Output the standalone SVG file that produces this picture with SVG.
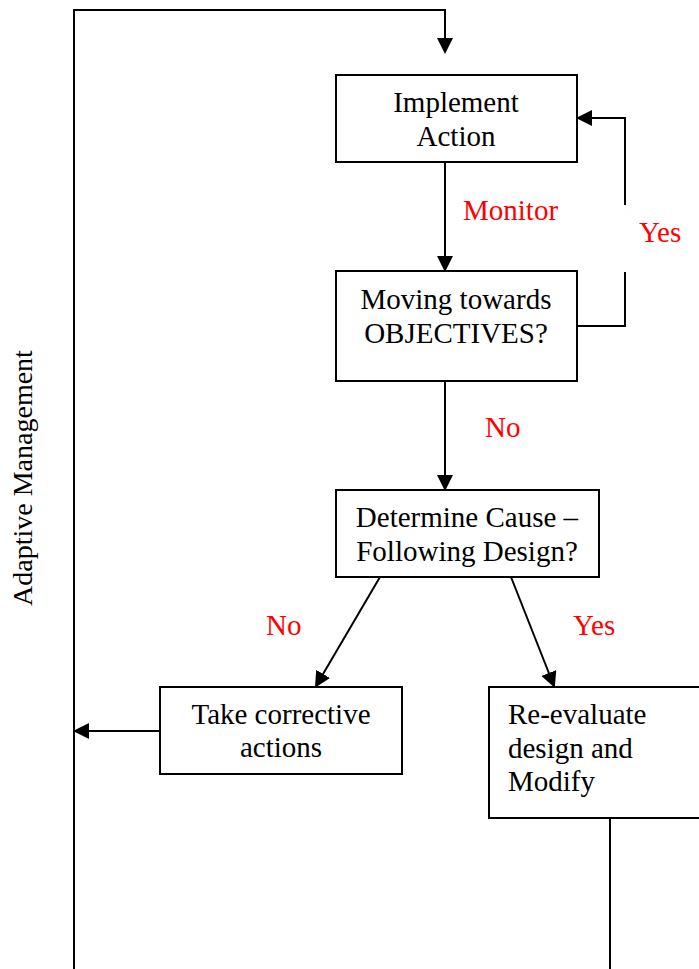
<svg xmlns="http://www.w3.org/2000/svg" width="699" height="969" viewBox="0 0 699 969">
<style>
.box{fill:#fff;stroke:#000;stroke-width:2}
.ln{fill:none;stroke:#000;stroke-width:2}
.t{font-family:"Liberation Serif","Times New Roman",serif;font-size:29px;fill:#000}
.r{font-family:"Liberation Serif","Times New Roman",serif;font-size:29px;fill:#f00}
</style>
<defs>
<marker id="ah" markerWidth="8" markerHeight="8" refX="7" refY="4" orient="auto" markerUnits="strokeWidth">
<path d="M0,0 L8,4 L0,8 z" fill="#000"/>
</marker>
</defs>
<rect width="699" height="969" fill="#fff"/>
<g id="connectors">
<path class="ln" d="M74,969 V10 H445 V52" marker-end="url(#ah)"/>
<path class="ln" d="M445,162 V270" marker-end="url(#ah)"/>
<path class="ln" d="M577,326 H625 V118 H578" marker-end="url(#ah)"/>
<path class="ln" d="M445,381 V489" marker-end="url(#ah)"/>
<path class="ln" d="M380,577 L316,686" marker-end="url(#ah)"/>
<path class="ln" d="M511,577 L554,686" marker-end="url(#ah)"/>
<path class="ln" d="M160,731 H75" marker-end="url(#ah)"/>
<path class="ln" d="M610,818 V969"/>
</g>
<g id="labels">
<text class="r" x="463" y="220">Monitor</text>
<rect x="615" y="205" width="80" height="67" fill="#fff"/>
<text class="r" x="639" y="242">Yes</text>
<svg x="470" y="410" width="70" height="28" overflow="hidden"><text class="r" x="15" y="27">No</text></svg>
<text class="r" x="266" y="635">No</text>
<text class="r" x="573" y="635">Yes</text>
<text class="t" transform="translate(32,478) rotate(-90)" text-anchor="middle" style="font-size:28px">Adaptive Management</text>
</g>
<g id="implement">
<rect class="box" x="336" y="75" width="241" height="87"/>
<text class="t" x="456" y="112" text-anchor="middle">Implement</text>
<text class="t" x="456" y="146" text-anchor="middle">Action</text>
</g>
<g id="moving">
<rect class="box" x="336" y="271" width="241" height="110"/>
<text class="t" x="456" y="309" text-anchor="middle">Moving towards</text>
<text class="t" x="456" y="343" text-anchor="middle">OBJECTIVES?</text>
</g>
<g id="determine">
<rect class="box" x="336" y="490" width="263" height="87"/>
<text class="t" x="467" y="527" text-anchor="middle">Determine Cause –</text>
<text class="t" x="467" y="561" text-anchor="middle">Following Design?</text>
</g>
<g id="corrective">
<rect class="box" x="160" y="687" width="242" height="87"/>
<text class="t" x="281" y="724" text-anchor="middle">Take corrective</text>
<text class="t" x="281" y="757" text-anchor="middle">actions</text>
</g>
<g id="reevaluate">
<rect class="box" x="489" y="687" width="220" height="131"/>
<text class="t" x="508" y="724">Re-evaluate</text>
<text class="t" x="508" y="758">design and</text>
<text class="t" x="508" y="791">Modify</text>
</g>
</svg>
